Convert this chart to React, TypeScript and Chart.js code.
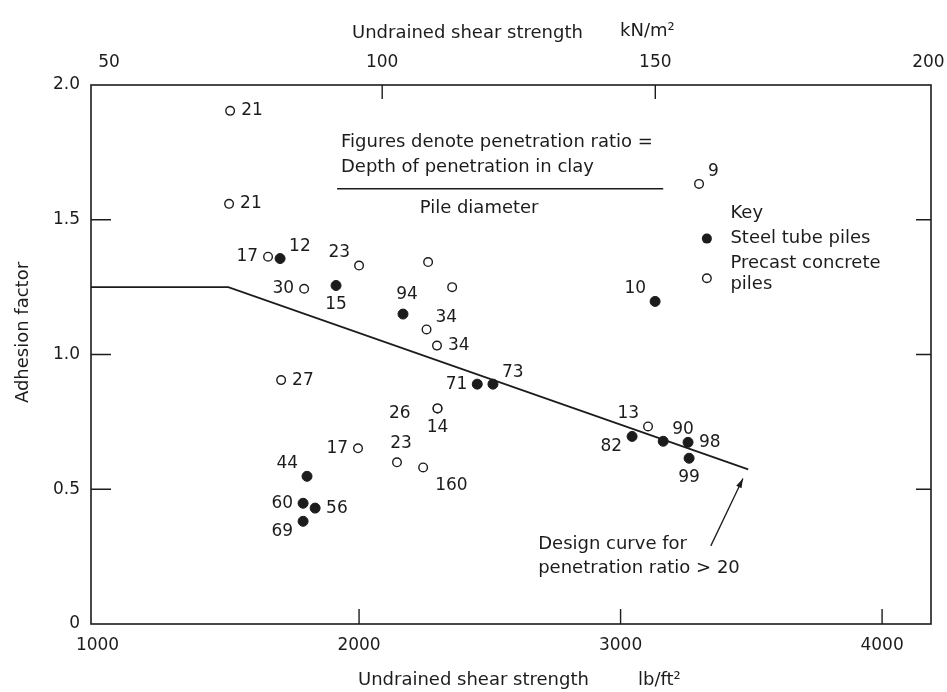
import React, { useEffect, useRef } from "react";
import { Chart, registerables } from "chart.js";

Chart.register(...registerables);

const FONT = "'DejaVu Sans', 'Liberation Sans', sans-serif";
const INK = "#1c1c1c";

// ---- axes -------------------------------------------------------------
const xRange = [975, 4187]; // lb/ft²
const LB_PER_KN = 20.885; // 1 kN/m² = 20.885 lb/ft²
const xTickValues = [1000, 2000, 3000, 4000];
const xTopTickValues = [50, 100, 150, 200];
const yRange = [0, 2.0];
const yTickValues = [0, 0.5, 1.0, 1.5, 2.0];
const xInnerTicks = [2000, 3000, 4000];
const xTopInnerTicks = [100, 150];
const yInnerTicks = [0.5, 1.0, 1.5];

// ---- design curve for penetration ratio > 20 ----------------------------
const designX = [975, 1500, 3488];
const designY = [1.25, 1.25, 0.574];

// ---- steel tube piles (filled) ------------------------------------------
const steelX = [1698, 1912, 2168, 3132, 2452, 2512, 1801, 1786, 1832, 1786, 3044, 3163, 3258, 3262];
const steelY = [1.356, 1.256, 1.15, 1.197, 0.89, 0.89, 0.548, 0.448, 0.43, 0.381, 0.696, 0.678, 0.674, 0.615];
const steelRatio = ["12", "15", "94", "10", "71", "73", "44", "60", "56", "69", "82", "90", "98", "99"];
const steelLabelAt = ["tr", "b", "t", "tl", "l", "tr", "tl", "l", "r", "bl", "bl", "tr", "r", "b"];

// ---- precast concrete piles (open) ---------------------------------------
const concreteX = [1507, 1503, 1652, 2000, 1790, 2264, 2356, 2258, 2298, 1702, 2300, 2300, 1996, 2145, 2245, 3105, 3300];
const concreteY = [1.904, 1.559, 1.363, 1.33, 1.244, 1.343, 1.25, 1.093, 1.033, 0.905, 0.8, 0.8, 0.652, 0.6, 0.581, 0.733, 1.633];
const concreteRatio = ["21", "21", "17", "23", "30", "", "", "34", "34", "27", "26", "14", "17", "23", "160", "13", "9"];
const concreteLabelAt = ["r", "r", "l", "tl", "l", "", "", "tr", "r", "r", "l2", "b", "l", "t", "br", "tl", "tr"];

// ---- texts --------------------------------------------------------------
const topTitle = "Undrained shear strength";
const topUnit = "kN/m²";
const bottomTitle = "Undrained shear strength";
const bottomUnit = "lb/ft²";
const yTitle = "Adhesion factor";
const noteLines = ["Figures denote penetration ratio =", "Depth of penetration in clay", "Pile diameter"];
const keyTitle = "Key";
const keySteel = "Steel tube piles";
const keyConcrete = ["Precast concrete", "piles"];
const designNote = ["Design curve for", "penetration ratio > 20"];

const labelOffsets: Record<string, [number, number, CanvasTextAlign]> = {
  r: [11, 0, "left"],
  l: [-10, 0, "right"],
  l2: [-27, 5, "right"],
  t: [4, -19, "center"],
  b: [0, 19, "center"],
  tr: [9, -12, "left"],
  tl: [-9, -13, "right"],
  br: [12, 18, "left"],
  bl: [-10, 10, "right"],
};

const overlayPlugin = {
  id: "overlay",
  afterDatasetsDraw(chart: any) {
    const { ctx, chartArea: a, scales } = chart;
    const X = (v: number) => scales.x.getPixelForValue(v);
    const XT = (v: number) => scales.x2.getPixelForValue(v);
    const Y = (v: number) => scales.y.getPixelForValue(v);
    ctx.save();

    // frame
    ctx.strokeStyle = INK;
    ctx.lineWidth = 1.6;
    ctx.strokeRect(a.left, a.top, a.right - a.left, a.bottom - a.top);

    // inward tick marks
    ctx.lineWidth = 1.4;
    ctx.beginPath();
    yInnerTicks.forEach((v) => {
      ctx.moveTo(a.left, Y(v));
      ctx.lineTo(a.left + 20, Y(v));
      ctx.moveTo(a.right, Y(v));
      ctx.lineTo(a.right - 15, Y(v));
    });
    xInnerTicks.forEach((v) => {
      ctx.moveTo(X(v), a.bottom);
      ctx.lineTo(X(v), a.bottom - 15);
    });
    xTopInnerTicks.forEach((v) => {
      ctx.moveTo(XT(v), a.top);
      ctx.lineTo(XT(v), a.top + 14);
    });
    ctx.stroke();

    // point labels
    ctx.fillStyle = INK;
    ctx.font = `17px ${FONT}`;
    ctx.textBaseline = "middle";
    const drawLabels = (xs: number[], ys: number[], labels: string[], at: string[]) => {
      xs.forEach((xv, i) => {
        if (!labels[i]) return;
        const off = labelOffsets[at[i]] || labelOffsets.r;
        ctx.textAlign = off[2];
        ctx.fillText(labels[i], X(xv) + off[0], Y(ys[i]) + off[1]);
      });
    };
    drawLabels(steelX, steelY, steelRatio, steelLabelAt);
    drawLabels(concreteX, concreteY, concreteRatio, concreteLabelAt);

    // note: penetration ratio definition
    ctx.font = `18px ${FONT}`;
    ctx.textAlign = "left";
    ctx.fillText(noteLines[0], X(1931), Y(1.789));
    ctx.fillText(noteLines[1], X(1931), Y(1.693));
    ctx.beginPath();
    ctx.lineWidth = 1.4;
    ctx.moveTo(X(1916), Y(1.615));
    ctx.lineTo(X(3163), Y(1.615));
    ctx.stroke();
    ctx.textAlign = "center";
    ctx.fillText(noteLines[2], X(2459), Y(1.541));

    // key
    ctx.textAlign = "left";
    ctx.fillText(keyTitle, X(3420), Y(1.522));
    ctx.fillText(keySteel, X(3420), Y(1.43));
    ctx.fillText(keyConcrete[0], X(3420), Y(1.34));
    ctx.fillText(keyConcrete[1], X(3420), Y(1.26));
    ctx.beginPath();
    ctx.arc(X(3330), Y(1.43), 5, 0, Math.PI * 2);
    ctx.fill();
    ctx.beginPath();
    ctx.lineWidth = 1.4;
    ctx.arc(X(3330), Y(1.283), 4.3, 0, Math.PI * 2);
    ctx.stroke();

    // design curve note + arrow
    ctx.fillText(designNote[0], X(2685), Y(0.296));
    ctx.fillText(designNote[1], X(2685), Y(0.207));
    const x0 = X(3345), y0 = Y(0.29), x1 = X(3468), y1 = Y(0.54);
    ctx.beginPath();
    ctx.lineWidth = 1.3;
    ctx.moveTo(x0, y0);
    ctx.lineTo(x1, y1);
    ctx.stroke();
    const ang = Math.atan2(y1 - y0, x1 - x0);
    ctx.beginPath();
    ctx.moveTo(x1, y1);
    ctx.lineTo(x1 - 10 * Math.cos(ang - 0.3), y1 - 10 * Math.sin(ang - 0.3));
    ctx.lineTo(x1 - 10 * Math.cos(ang + 0.3), y1 - 10 * Math.sin(ang + 0.3));
    ctx.closePath();
    ctx.fill();

    ctx.restore();
  },
  afterDraw(chart: any) {
    const { ctx, chartArea: a } = chart;
    ctx.save();
    ctx.fillStyle = INK;
    ctx.font = `18px ${FONT}`;
    ctx.textBaseline = "middle";
    ctx.textAlign = "left";
    ctx.fillText(topTitle, 352, 33);
    ctx.fillText(topUnit, 620, 31);
    ctx.fillText(bottomTitle, 358, a.bottom + 56);
    ctx.fillText(bottomUnit, 638, a.bottom + 56);
    ctx.translate(23, (a.top + a.bottom) / 2 - 22);
    ctx.rotate(-Math.PI / 2);
    ctx.textAlign = "center";
    ctx.fillText(yTitle, 0, 0);
    ctx.restore();
  },
};

const fitX = (h: number) => (s: any) => {
  s.height = h;
  s.paddingLeft = 0;
  s.paddingRight = 0;
};

export default function App() {
  const ref = useRef<HTMLCanvasElement | null>(null);

  useEffect(() => {
    if (!ref.current) return;
    const tickFont = { family: FONT, size: 17 };
    const chart = new Chart(ref.current, {
      type: "scatter",
      data: {
        datasets: [
          {
            label: "Design curve",
            data: designX.map((x, i) => ({ x, y: designY[i] })),
            showLine: true,
            borderColor: INK,
            borderWidth: 1.8,
            pointRadius: 0,
            order: 3,
          },
          {
            label: "Precast concrete piles",
            data: concreteX.map((x, i) => ({ x, y: concreteY[i] })),
            pointRadius: 4.3,
            pointBorderWidth: 1.4,
            borderColor: INK,
            backgroundColor: "rgba(255,255,255,1)",
            order: 2,
          },
          {
            label: "Steel tube piles",
            data: steelX.map((x, i) => ({ x, y: steelY[i] })),
            pointRadius: 5,
            borderColor: INK,
            backgroundColor: INK,
            order: 1,
          },
        ],
      },
      options: {
        animation: false,
        responsive: false,
        devicePixelRatio: 1,
        layout: { padding: { left: 0, right: 16, top: 0, bottom: 0 } },
        plugins: { legend: { display: false }, tooltip: { enabled: false } },
        scales: {
          x: {
            type: "linear",
            position: "bottom",
            min: xRange[0],
            max: xRange[1],
            grid: { display: false, drawTicks: false },
            border: { display: false },
            ticks: { font: tickFont, color: INK, padding: 11, maxRotation: 0, callback: (v: any) => String(v) },
            afterBuildTicks: (s: any) => {
              s.ticks = xTickValues.map((value) => ({ value }));
            },
            afterFit: fitX(68),
          },
          x2: {
            type: "linear",
            position: "top",
            min: xRange[0] / LB_PER_KN,
            max: xRange[1] / LB_PER_KN,
            grid: { display: false, drawTicks: false },
            border: { display: false },
            ticks: { font: tickFont, color: INK, padding: 12, maxRotation: 0, callback: (v: any) => String(v) },
            afterBuildTicks: (s: any) => {
              s.ticks = xTopTickValues.map((value) => ({ value }));
            },
            afterFit: fitX(85),
          },
          y: {
            type: "linear",
            min: yRange[0],
            max: yRange[1],
            grid: { display: false, drawTicks: false },
            border: { display: false },
            ticks: {
              font: tickFont,
              color: INK,
              padding: 11,
              callback: (v: any) => (Number(v) === 0 ? "0" : Number(v).toFixed(1)),
            },
            afterBuildTicks: (s: any) => {
              s.ticks = yTickValues.map((value) => ({ value }));
            },
            afterFit: (s: any) => {
              s.width = 91;
              s.paddingTop = 0;
              s.paddingBottom = 0;
            },
          },
        },
      },
      plugins: [overlayPlugin],
    } as any);
    return () => chart.destroy();
  }, []);

  return (
    <div style={{ position: "fixed", left: 0, top: 0, width: 947, height: 692, background: "#fff" }}>
      <canvas ref={ref} width={947} height={692} style={{ width: 947, height: 692 }} />
    </div>
  );
}
